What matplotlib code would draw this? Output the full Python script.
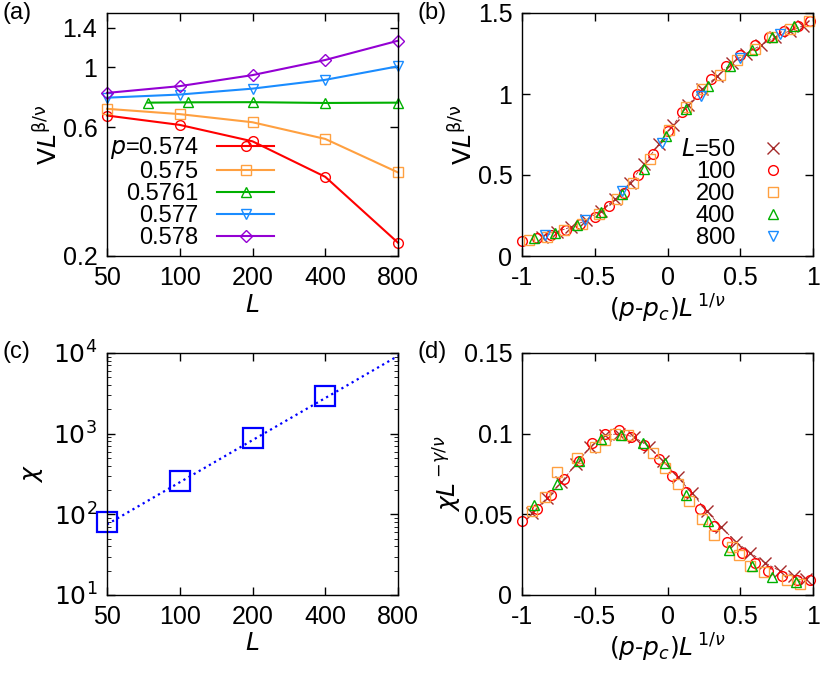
#! /usr/bin/env python3

"""Four panel finite-size scaling figure"""

import matplotlib
matplotlib.use('Agg')
import matplotlib.pyplot as plt
from matplotlib.ticker import FixedLocator, NullLocator, NullFormatter, LogLocator

plt.rcParams['font.family'] = 'Liberation Sans'
plt.rcParams['font.size'] = 18
plt.rcParams['mathtext.fontset'] = 'dejavusans'

# panel (a)
sizes = [50, 100, 200, 400, 800]
p_labels = ['$p$=0.574', '0.575', '0.5761', '0.577', '0.578']
v_574 = [0.663, 0.612, 0.532, 0.393, 0.224]
v_575 = [0.702, 0.671, 0.626, 0.543, 0.408]
sizes_5761 = [74, 108, 200, 400, 800]
v_5761 = [0.740, 0.742, 0.743, 0.738, 0.740]
v_577 = [0.772, 0.793, 0.834, 0.899, 1.009]
v_578 = [0.804, 0.852, 0.936, 1.065, 1.255]

# panel (b)
b50_x = [-0.86, -0.76, -0.66, -0.56, -0.46, -0.36, -0.26, -0.16, -0.06, 0.04, 0.14, 0.24, 0.34, 0.44, 0.54, 0.64, 0.74, 0.84, 0.93]
b50_y = [0.12, 0.15, 0.18, 0.22, 0.28, 0.35, 0.45, 0.57, 0.69, 0.81, 0.93, 1.03, 1.11, 1.19, 1.25, 1.30, 1.35, 1.39, 1.42]
b100_x = [-1.0, -0.9, -0.8, -0.7, -0.6, -0.5, -0.4, -0.3, -0.2, -0.1, 0.0, 0.1, 0.2, 0.3, 0.4, 0.5, 0.6, 0.7, 0.8, 0.9, 0.98]
b100_y = [0.09, 0.11, 0.13, 0.16, 0.20, 0.24, 0.31, 0.39, 0.50, 0.63, 0.77, 0.89, 1.0, 1.09, 1.17, 1.24, 1.30, 1.35, 1.39, 1.42, 1.45]
b200_x = [-0.95, -0.83, -0.71, -0.59, -0.47, -0.35, -0.24, -0.12, 0.01, 0.13, 0.24, 0.36, 0.48, 0.60, 0.72, 0.84, 0.97]
b200_y = [0.10, 0.12, 0.16, 0.20, 0.26, 0.35, 0.45, 0.60, 0.78, 0.92, 1.03, 1.12, 1.21, 1.28, 1.35, 1.40, 1.45]
b400_x = [-0.92, -0.77, -0.62, -0.46, -0.31, -0.16, -0.01, 0.13, 0.28, 0.43, 0.58, 0.72, 0.87]
b400_y = [0.11, 0.14, 0.19, 0.27, 0.38, 0.54, 0.74, 0.91, 1.05, 1.17, 1.27, 1.35, 1.42]
b800_x = [-0.84, -0.57, -0.31, -0.04, 0.23, 0.5, 0.77]
b800_y = [0.13, 0.22, 0.40, 0.70, 0.99, 1.22, 1.37]

# panel (c)
chi_sizes = [50, 100, 200, 400]
chi = [80, 260, 880, 2900]
fit_sizes = [50, 800]
fit_chi = [75, 9200]

# panel (d)
d50_x = [-0.93, -0.83, -0.73, -0.63, -0.53, -0.43, -0.33, -0.23, -0.13, -0.03, 0.07, 0.17, 0.27, 0.37, 0.47, 0.57, 0.67, 0.77, 0.87, 0.95]
d50_y = [0.051, 0.060, 0.070, 0.081, 0.092, 0.099, 0.100, 0.098, 0.092, 0.083, 0.073, 0.063, 0.052, 0.042, 0.033, 0.026, 0.020, 0.015, 0.012, 0.010]
d100_x = [-1.0, -0.9, -0.8, -0.71, -0.61, -0.52, -0.43, -0.33, -0.25, -0.16, -0.06, 0.03, 0.13, 0.22, 0.32, 0.41, 0.51, 0.6, 0.69, 0.79, 0.89, 0.98]
d100_y = [0.046, 0.053, 0.062, 0.072, 0.083, 0.094, 0.100, 0.102, 0.098, 0.093, 0.084, 0.074, 0.064, 0.053, 0.043, 0.033, 0.026, 0.020, 0.015, 0.012, 0.009, 0.009]
d200_x = [-0.93, -0.84, -0.76, -0.62, -0.5, -0.43, -0.36, -0.27, -0.1, -0.02, 0.07, 0.15, 0.24, 0.32, 0.44, 0.49, 0.57, 0.66, 0.82, 0.91]
d200_y = [0.052, 0.061, 0.076, 0.085, 0.092, 0.096, 0.100, 0.099, 0.088, 0.079, 0.069, 0.058, 0.047, 0.037, 0.030, 0.025, 0.018, 0.014, 0.009, 0.007]
d400_x = [-0.92, -0.76, -0.61, -0.46, -0.32, -0.17, -0.02, 0.13, 0.28, 0.42, 0.58, 0.72, 0.88]
d400_y = [0.056, 0.069, 0.083, 0.097, 0.099, 0.094, 0.082, 0.062, 0.046, 0.028, 0.018, 0.011, 0.008]

RED = '#ff0000'
ORANGE = '#ffa040'
GREEN = '#00b000'
BLUE = '#1a8cff'
PURPLE = '#9400d3'
BROWN = '#a52a2a'

W, H = 830, 678
fig = plt.figure(figsize=(W / 100, H / 100), dpi=100)


def box(l, t, r, b):
    return [l / W, 1 - b / H, (r - l) / W, (b - t) / H]


def style(ax):
    ax.tick_params(direction='in', top=True, right=True, length=6, width=1, pad=7)
    ax.tick_params(which='minor', direction='in', top=True, right=True, length=3)
    for s in ax.spines.values():
        s.set_linewidth(1)


def logx(ax):
    ax.set_xscale('log')
    ax.set_xlim(50, 800)
    ax.xaxis.set_major_locator(FixedLocator(sizes))
    ax.set_xticklabels([str(s) for s in sizes])
    ax.xaxis.set_minor_locator(NullLocator())
    ax.xaxis.set_minor_formatter(NullFormatter())


mfc = 'none'

# (a)
ax = fig.add_axes(box(107, 13, 398, 256))
style(ax)
logx(ax)
ax.set_yscale('log')
ax.set_ylim(0.2, 1.59)
ax.yaxis.set_major_locator(FixedLocator([0.2, 0.6, 1, 1.4]))
ax.set_yticklabels(['0.2', '0.6', '1', '1.4'])
ax.yaxis.set_minor_locator(NullLocator())
ax.yaxis.set_minor_formatter(NullFormatter())
ax.plot(sizes, v_574, '-o', color=RED, mfc=mfc, ms=7, label=p_labels[0], clip_on=False)
ax.plot(sizes, v_575, '-s', color=ORANGE, mfc=mfc, ms=7, label=p_labels[1], clip_on=False)
ax.plot(sizes_5761, v_5761, '-^', color=GREEN, mfc=mfc, ms=7, label=p_labels[2], clip_on=False)
ax.plot(sizes, v_577, '-v', color=BLUE, mfc=mfc, ms=7, label=p_labels[3], clip_on=False)
ax.plot(sizes, v_578, '-D', color=PURPLE, mfc=mfc, ms=6, label=p_labels[4], clip_on=False)
ax.legend(loc='lower left', bbox_to_anchor=(-0.04, -0.03), markerfirst=False, frameon=False,
          handlelength=2.4, labelspacing=0.0, fontsize=17, handletextpad=0.8, borderaxespad=0.2)
ax.set_xlabel('$L$', labelpad=2)
ax.set_ylabel(r'$\mathrm{V}L^{\mathrm{\beta/\nu}}$', labelpad=0)
fig.text(0.003, 0.972, '(a)', fontsize=17)

# (b)
ax = fig.add_axes(box(522, 13, 813, 256))
style(ax)
ax.set_xlim(-1, 1)
ax.set_ylim(0, 1.5)
ax.set_xticks([-1, -0.5, 0, 0.5, 1], ['-1', '-0.5', '0', '0.5', '1'])
ax.set_yticks([0, 0.5, 1, 1.5], ['0', '0.5', '1', '1.5'])
ax.plot(b50_x, b50_y, 'x', color=BROWN, ms=8, mew=1, ls=(0, (4, 2)), lw=0.6, label='$L$=50')
ax.plot(b100_x, b100_y, 'o', color=RED, mfc=mfc, ms=7, label='100', clip_on=False)
ax.plot(b200_x, b200_y, 's', color=ORANGE, mfc=mfc, ms=7, label='200', clip_on=False)
ax.plot(b400_x, b400_y, '^', color=GREEN, mfc=mfc, ms=7, label='400')
ax.plot(b800_x, b800_y, 'v', color=BLUE, mfc=mfc, ms=7, label='800')
leg = ax.legend(loc='lower right', bbox_to_anchor=(0.96, -0.03), markerfirst=False, frameon=False,
                handlelength=1.2, labelspacing=0.0, fontsize=17, handletextpad=1.0, borderaxespad=0.2)
for h in leg.get_lines():
    h.set_linestyle('none')
ax.set_xlabel(r'$(p$-$p_c)L^{\,1/\nu}$', labelpad=2)
ax.set_ylabel(r'$\mathrm{V}L^{\mathrm{\beta/\nu}}$', labelpad=0)
fig.text(0.503, 0.972, '(b)', fontsize=17)

# (c)
ax = fig.add_axes(box(107, 353, 398, 595))
style(ax)
logx(ax)
ax.set_yscale('log')
ax.set_ylim(10, 1e4)
ax.set_yticks([10, 100, 1000, 10000], ['$10^1$', '$10^2$', '$10^3$', '$10^4$'])
ax.yaxis.set_minor_locator(LogLocator(base=10, subs=range(2, 10)))
ax.yaxis.set_minor_formatter(NullFormatter())
ax.plot(fit_sizes, fit_chi, ':', color='#0000ff', lw=1.6)
ax.plot(chi_sizes, chi, 's', color='#0000ff', mfc=mfc, ms=15, mew=1.6, clip_on=False)
ax.set_xlabel('$L$', labelpad=2)
ax.set_ylabel(r'$\chi$', labelpad=6)
fig.text(0.003, 0.472, '(c)', fontsize=17)

# (d)
ax = fig.add_axes(box(522, 353, 813, 595))
style(ax)
ax.set_xlim(-1, 1)
ax.set_ylim(0, 0.15)
ax.set_xticks([-1, -0.5, 0, 0.5, 1], ['-1', '-0.5', '0', '0.5', '1'])
ax.set_yticks([0, 0.05, 0.1, 0.15], ['0', '0.05', '0.1', '0.15'])
ax.plot(d50_x, d50_y, 'x', color=BROWN, ms=8, mew=1, ls=(0, (4, 2)), lw=0.6)
ax.plot(d100_x, d100_y, 'o', color=RED, mfc=mfc, ms=7, clip_on=False)
ax.plot(d200_x, d200_y, 's', color=ORANGE, mfc=mfc, ms=7)
ax.plot(d400_x, d400_y, '^', color=GREEN, mfc=mfc, ms=7)
ax.set_xlabel(r'$(p$-$p_c)L^{\,1/\nu}$', labelpad=2)
ax.set_ylabel(r'$\chi L^{\,\mathrm{-}\gamma/\nu}$', labelpad=0)
fig.text(0.503, 0.472, '(d)', fontsize=17)

fig.savefig('out.png', dpi=100)
plt.close(fig)
